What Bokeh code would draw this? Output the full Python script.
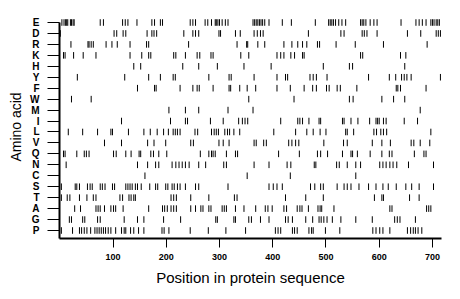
from bokeh.plotting import figure
from bokeh.models import ColumnDataSource, FixedTicker
from bokeh.embed import file_html
from bokeh.resources import INLINE

# Amino acids, top row to bottom row
amino_acids = ["E", "D", "R", "K", "H", "Y", "F", "W", "M", "I",
               "L", "V", "Q", "N", "C", "S", "T", "A", "G", "P"]

pos_E = [4, 8, 11, 13, 15, 20, 22, 25, 27, 76, 82, 118, 123, 128, 145, 173, 178, 189, 193,
         245, 250, 255, 273, 278, 285, 292, 294, 297, 300, 305, 311, 316, 363, 366, 369, 372,
         375, 378, 381, 385, 393, 418, 435, 480, 505, 508, 511, 514, 518, 524, 530, 537, 565,
         568, 571, 575, 583, 590, 596, 641, 669, 675, 681, 688, 697, 700, 703, 707, 710, 713]
pos_D = [1, 102, 107, 119, 124, 164, 173, 177, 182, 233, 250, 255, 261, 299, 302, 330, 339,
         365, 371, 377, 382, 467, 528, 534, 568, 572, 577, 596, 653, 678, 707, 711, 715]
pos_R = [21, 53, 55, 59, 63, 87, 98, 108, 132, 163, 167, 242, 333, 351, 353, 372, 385, 421,
         436, 447, 456, 464, 484, 488, 519, 555, 608, 690]
pos_K = [7, 10, 26, 44, 68, 132, 154, 167, 171, 214, 218, 236, 258, 263, 284, 288, 340, 355,
         408, 415, 421, 434, 441, 456, 459, 565, 569, 640, 650]
pos_H = [139, 152, 231, 261, 296, 346, 397, 495, 544, 550, 648]
pos_Y = [33, 122, 167, 189, 213, 217, 280, 318, 322, 365, 408, 424, 428, 470, 476, 482, 502,
         580, 619, 631, 642, 647, 652, 660, 715]
pos_F = [146, 178, 181, 226, 250, 258, 262, 288, 318, 321, 338, 352, 368, 408, 433, 459, 475,
         482, 501, 506, 521, 527, 558, 632, 635, 640, 688]
pos_W = [22, 59, 355, 440, 544, 551, 605, 627, 648]
pos_M = [205, 236, 261, 316, 363, 677]
pos_I = [116, 208, 236, 240, 283, 307, 336, 343, 348, 353, 415, 447, 451, 456, 468, 487, 490,
         531, 534, 547, 560, 582, 594, 597, 600, 608, 613, 647, 672]
pos_L = [16, 43, 71, 96, 99, 129, 158, 170, 183, 195, 204, 213, 217, 221, 226, 254, 259, 285,
         290, 294, 298, 310, 315, 319, 327, 338, 402, 443, 464, 476, 489, 500, 537, 540, 552,
         590, 595, 603, 608, 614, 697]
pos_V = [84, 116, 165, 177, 199, 246, 251, 299, 307, 318, 365, 369, 383, 388, 430, 436, 443,
         449, 496, 533, 540, 587, 605, 621, 660, 665, 677, 695]
pos_Q = [7, 10, 32, 46, 50, 55, 101, 106, 124, 134, 149, 152, 171, 176, 186, 201, 264, 280,
         285, 288, 292, 313, 330, 334, 411, 450, 484, 490, 503, 531, 547, 550, 559, 583, 605,
         619, 624, 666, 684, 688]
pos_N = [12, 146, 165, 180, 186, 211, 218, 224, 230, 236, 243, 261, 274, 308, 313, 365, 393,
         427, 434, 478, 481, 520, 525, 540, 556, 565, 601, 607, 613, 620, 626, 633, 655, 702]
pos_C = [160, 352, 433, 556]
pos_S = [3, 29, 32, 37, 52, 57, 61, 76, 80, 85, 99, 103, 124, 128, 132, 136, 142, 146, 153,
         169, 180, 184, 199, 203, 211, 215, 221, 226, 236, 255, 261, 316, 393, 401, 408, 418,
         471, 479, 490, 495, 521, 534, 540, 547, 562, 580, 594, 607, 617, 632, 650, 661, 675, 702]
pos_T = [3, 14, 19, 37, 51, 63, 68, 113, 118, 130, 134, 139, 142, 209, 214, 219, 246, 280,
         328, 333, 424, 462, 495, 591, 605, 608, 657, 675]
pos_A = [28, 39, 68, 72, 76, 84, 96, 101, 105, 119, 167, 193, 197, 202, 209, 214, 219, 246,
         255, 265, 269, 280, 284, 305, 309, 313, 330, 346, 368, 386, 391, 399, 421, 426, 446,
         451, 455, 467, 485, 489, 492, 515, 620, 624, 689, 693, 697]
pos_G = [18, 22, 43, 47, 71, 76, 121, 146, 158, 195, 227, 293, 296, 327, 330, 355, 360, 377,
         393, 424, 429, 437, 462, 475, 487, 491, 496, 502, 512, 528, 556, 587, 629, 634, 639, 668]
pos_P = [3, 24, 37, 41, 46, 51, 58, 66, 70, 74, 78, 82, 86, 91, 96, 105, 116, 121, 124, 133,
         139, 148, 158, 192, 196, 205, 245, 279, 312, 349, 405, 410, 415, 437, 441, 446, 468,
         473, 476, 499, 526, 588, 594, 601, 607, 620, 653, 659, 664, 668, 673, 680]

positions = {
    "E": pos_E, "D": pos_D, "R": pos_R, "K": pos_K, "H": pos_H, "Y": pos_Y, "F": pos_F,
    "W": pos_W, "M": pos_M, "I": pos_I, "L": pos_L, "V": pos_V, "Q": pos_Q, "N": pos_N,
    "C": pos_C, "S": pos_S, "T": pos_T, "A": pos_A, "G": pos_G, "P": pos_P,
}

x_ticks = [100, 200, 300, 400, 500, 600, 700]
seq_length = 717

n = len(amino_acids)
row_of = {aa: n - 1 - i for i, aa in enumerate(amino_acids)}

xs, y0s, y1s = [], [], []
half = 0.3
for aa in amino_acids:
    r = row_of[aa]
    for pos in positions[aa]:
        xs.append(pos)
        y0s.append(r - half)
        y1s.append(r + half)

src = ColumnDataSource(dict(x=xs, y0=y0s, y1=y1s))

p = figure(width=460, height=299, output_backend="svg", toolbar_location=None,
           x_range=(-0.5, seq_length), y_range=(-0.731, n - 1 + 0.64),
           min_border_left=59, min_border_right=19, min_border_top=15, min_border_bottom=61)

p.segment(x0="x", y0="y0", x1="x", y1="y1", source=src, line_color="black", line_width=1)

p.outline_line_color = None
p.xgrid.visible = False
p.ygrid.visible = False
p.background_fill_color = "white"
p.border_fill_color = "white"

font = "Liberation Sans"

# x axis
xa = p.xaxis[0]
xa.ticker = FixedTicker(ticks=x_ticks)
xa.axis_line_width = 2
xa.axis_line_color = "black"
xa.major_tick_in = 0
xa.major_tick_out = 9
xa.major_tick_line_width = 1
xa.minor_tick_line_color = None
xa.major_label_text_font = font
xa.major_label_text_font_style = "bold"
xa.major_label_text_font_size = "9px"
xa.major_label_text_color = "black"
xa.major_label_standoff = 6
xa.axis_label = "Position in protein sequence"
xa.axis_label_text_font = font
xa.axis_label_text_font_style = "normal"
xa.axis_label_text_font_size = "15px"
xa.axis_label_text_color = "black"
xa.axis_label_standoff = 6

# y axis
ya = p.yaxis[0]
ya.ticker = FixedTicker(ticks=list(range(n)))
ya.major_label_overrides = {row_of[aa]: aa for aa in amino_acids}
ya.bounds = (-0.731, n - 1)
ya.axis_line_width = 2
ya.axis_line_color = "black"
ya.major_tick_in = 0
ya.major_tick_out = 12
ya.major_tick_line_width = 1
ya.minor_tick_line_color = None
ya.major_label_text_font = font
ya.major_label_text_font_style = "bold"
ya.major_label_text_font_size = "10px"
ya.major_label_text_color = "black"
ya.major_label_standoff = 8
ya.axis_label = "Amino acid"
ya.axis_label_text_font = font
ya.axis_label_text_font_style = "normal"
ya.axis_label_text_font_size = "14px"
ya.axis_label_text_color = "black"
ya.axis_label_standoff = 3

open("out.html", "w").write(file_html(p, INLINE))
